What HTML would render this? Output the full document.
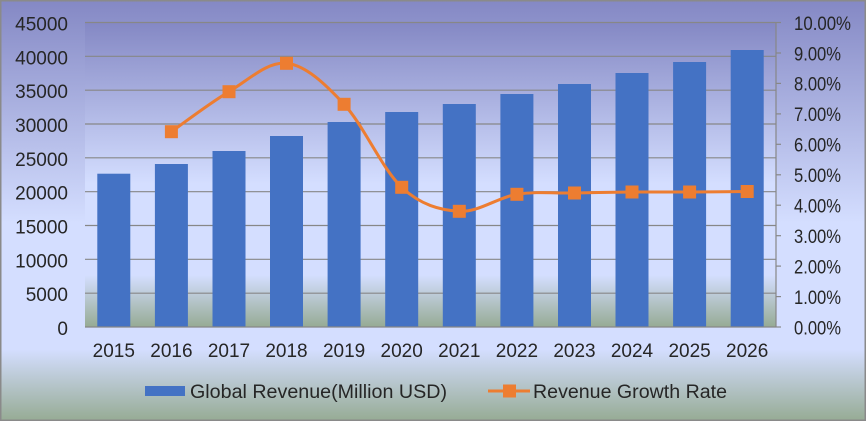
<!DOCTYPE html>
<html>
<head>
<meta charset="utf-8">
<style>
  html,body{margin:0;padding:0;background:#fff;}
  svg{display:block;}
  text{font-family:"Liberation Sans","Noto Sans CJK SC",sans-serif;fill:#262626;font-size:19px;}
</style>
</head>
<body>
<svg width="866" height="421" viewBox="0 0 866 421" xmlns="http://www.w3.org/2000/svg">
  <defs>
    <linearGradient id="fog" x1="0" y1="0" x2="0" y2="1">
      <stop offset="0" stop-color="#8488C4"/>
      <stop offset="0.53" stop-color="#D4DEFF"/>
      <stop offset="0.83" stop-color="#D4DEFF"/>
      <stop offset="1" stop-color="#96AB94"/>
    </linearGradient>
  </defs>
  <!-- chart area -->
  <rect x="0" y="0" width="866" height="421" fill="url(#fog)"/>
  <rect x="0.75" y="0.75" width="864.5" height="419.5" fill="none" stroke="#8a8a8a" stroke-width="1.5"/>
  <!-- plot area -->
  <rect x="85" y="22.5" width="691" height="304.5" fill="url(#fog)"/>

  <!-- gridlines -->
  <g stroke="#878787" stroke-width="1.2">
    <line x1="85" y1="22.5" x2="776" y2="22.5"/>
    <line x1="85" y1="56.3" x2="776" y2="56.3"/>
    <line x1="85" y1="90.2" x2="776" y2="90.2"/>
    <line x1="85" y1="124" x2="776" y2="124"/>
    <line x1="85" y1="157.8" x2="776" y2="157.8"/>
    <line x1="85" y1="191.7" x2="776" y2="191.7"/>
    <line x1="85" y1="225.5" x2="776" y2="225.5"/>
    <line x1="85" y1="259.3" x2="776" y2="259.3"/>
    <line x1="85" y1="293.2" x2="776" y2="293.2"/>
  </g>

  <!-- bars -->
  <g fill="#4472C4">
    <rect x="97.3" y="173.7" width="33" height="153.3"/>
    <rect x="154.9" y="164" width="33" height="163"/>
    <rect x="212.5" y="151" width="33" height="176"/>
    <rect x="270" y="136" width="33" height="191"/>
    <rect x="327.6" y="122" width="33" height="205"/>
    <rect x="385.2" y="112" width="33" height="215"/>
    <rect x="442.8" y="104" width="33" height="223"/>
    <rect x="500.4" y="94" width="33" height="233"/>
    <rect x="558" y="84" width="33" height="243"/>
    <rect x="615.5" y="73" width="33" height="254"/>
    <rect x="673.1" y="62" width="33" height="265"/>
    <rect x="730.7" y="50" width="33" height="277"/>
  </g>

  <!-- axes -->
  <g stroke="#878787" stroke-width="1.2">
    <line x1="85" y1="327" x2="776" y2="327"/>
    <line x1="776" y1="22.5" x2="776" y2="327"/>
    <line x1="776" y1="22.5" x2="781" y2="22.5"/>
    <line x1="776" y1="53" x2="781" y2="53"/>
    <line x1="776" y1="83.4" x2="781" y2="83.4"/>
    <line x1="776" y1="113.9" x2="781" y2="113.9"/>
    <line x1="776" y1="144.3" x2="781" y2="144.3"/>
    <line x1="776" y1="174.8" x2="781" y2="174.8"/>
    <line x1="776" y1="205.2" x2="781" y2="205.2"/>
    <line x1="776" y1="235.7" x2="781" y2="235.7"/>
    <line x1="776" y1="266.1" x2="781" y2="266.1"/>
    <line x1="776" y1="296.6" x2="781" y2="296.6"/>
    <line x1="776" y1="327" x2="781" y2="327"/>
  </g>

  <!-- growth line -->
  <path d="M171.38,131.7 C180.98,125.03 209.77,103.1 228.96,91.7 C248.15,80.3 267.35,61.2 286.54,63.3 C305.73,65.4 324.93,83.63 344.12,104.3 C363.31,124.97 382.52,169.47 401.71,187.3 C420.9,205.13 440.1,210.13 459.29,211.3 C478.48,212.47 497.68,197.35 516.87,194.3 C536.06,191.25 555.27,193.38 574.46,193.0 C593.65,192.62 612.85,192.17 632.04,192.0 C651.23,191.83 670.43,192.08 689.62,192.0 C708.81,191.92 737.61,191.58 747.21,191.5" fill="none" stroke="#ED7D31" stroke-width="3" stroke-linejoin="round" stroke-linecap="round"/>
  <g fill="#ED7D31">
    <rect x="164.9" y="125.2" width="13" height="13"/>
    <rect x="222.5" y="85.2" width="13" height="13"/>
    <rect x="280" y="56.8" width="13" height="13"/>
    <rect x="337.6" y="97.8" width="13" height="13"/>
    <rect x="395.2" y="180.8" width="13" height="13"/>
    <rect x="452.8" y="204.8" width="13" height="13"/>
    <rect x="510.4" y="187.8" width="13" height="13"/>
    <rect x="568" y="186.5" width="13" height="13"/>
    <rect x="625.5" y="185.5" width="13" height="13"/>
    <rect x="683.1" y="185.5" width="13" height="13"/>
    <rect x="740.7" y="185" width="13" height="13"/>
  </g>

  <!-- left axis labels -->
  <g text-anchor="end">
    <text x="68" y="30.5">45000</text>
    <text x="68" y="64.3">40000</text>
    <text x="68" y="98.2">35000</text>
    <text x="68" y="132">30000</text>
    <text x="68" y="165.8">25000</text>
    <text x="68" y="199.7">20000</text>
    <text x="68" y="233.5">15000</text>
    <text x="68" y="267.3">10000</text>
    <text x="68" y="301.2">5000</text>
    <text x="68" y="335">0</text>
  </g>

  <!-- right axis labels -->
  <g>
    <text x="794" y="29.8" textLength="57" lengthAdjust="spacingAndGlyphs">10.00%</text>
    <text x="794" y="60.3" textLength="47" lengthAdjust="spacingAndGlyphs">9.00%</text>
    <text x="794" y="90.7" textLength="47" lengthAdjust="spacingAndGlyphs">8.00%</text>
    <text x="794" y="121.2" textLength="47" lengthAdjust="spacingAndGlyphs">7.00%</text>
    <text x="794" y="151.6" textLength="47" lengthAdjust="spacingAndGlyphs">6.00%</text>
    <text x="794" y="182.1" textLength="47" lengthAdjust="spacingAndGlyphs">5.00%</text>
    <text x="794" y="212.5" textLength="47" lengthAdjust="spacingAndGlyphs">4.00%</text>
    <text x="794" y="243" textLength="47" lengthAdjust="spacingAndGlyphs">3.00%</text>
    <text x="794" y="273.4" textLength="47" lengthAdjust="spacingAndGlyphs">2.00%</text>
    <text x="794" y="303.9" textLength="47" lengthAdjust="spacingAndGlyphs">1.00%</text>
    <text x="794" y="334.3" textLength="47" lengthAdjust="spacingAndGlyphs">0.00%</text>
  </g>

  <!-- x axis labels -->
  <g text-anchor="middle">
    <text x="113.8" y="357">2015</text>
    <text x="171.4" y="357">2016</text>
    <text x="229" y="357">2017</text>
    <text x="286.5" y="357">2018</text>
    <text x="344.1" y="357">2019</text>
    <text x="401.7" y="357">2020</text>
    <text x="459.3" y="357">2021</text>
    <text x="516.9" y="357">2022</text>
    <text x="574.5" y="357">2023</text>
    <text x="632" y="357">2024</text>
    <text x="689.6" y="357">2025</text>
    <text x="747.2" y="357">2026</text>
  </g>

  <!-- legend -->
  <rect x="145" y="386" width="40" height="10" fill="#4472C4"/>
  <text x="190" y="397.8" textLength="257" lengthAdjust="spacingAndGlyphs">Global Revenue(Million USD)</text>
  <line x1="488" y1="391" x2="530" y2="391" stroke="#ED7D31" stroke-width="3"/>
  <rect x="503" y="384.5" width="13" height="13" fill="#ED7D31"/>
  <text x="533" y="397.8" textLength="194" lengthAdjust="spacingAndGlyphs">Revenue Growth Rate</text>
</svg>
</body>
</html>
